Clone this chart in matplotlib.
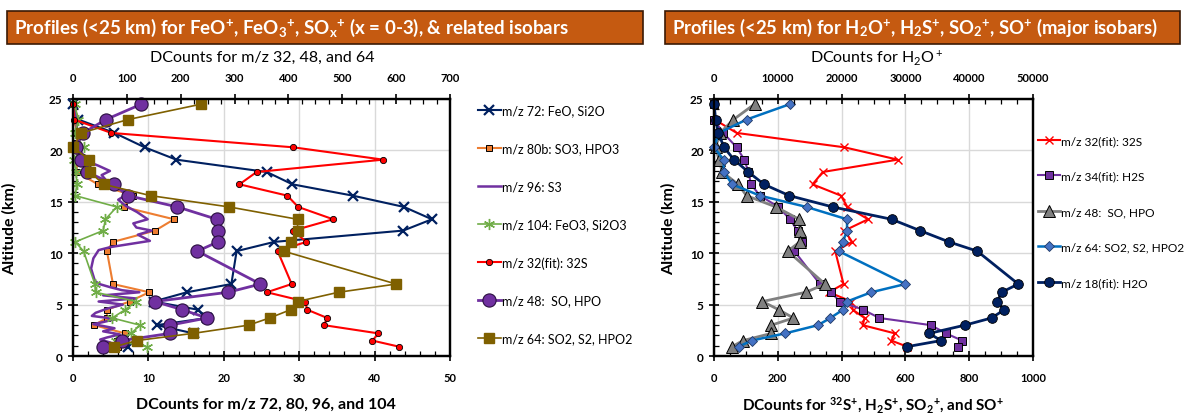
import numpy as np
import matplotlib.pyplot as plt
from matplotlib.patches import Rectangle
from matplotlib.ticker import MultipleLocator

plt.rcParams['font.family'] = ['Lato', 'DejaVu Sans']
plt.rcParams['mathtext.fontset'] = 'custom'
plt.rcParams['mathtext.rm'] = 'Lato'
plt.rcParams['mathtext.bf'] = 'Lato:bold'
plt.rcParams['mathtext.it'] = 'Lato:italic'

nan = np.nan

# altitude levels (km) shared by the marker series
altitude = [24.5, 23.0, 21.7, 20.3, 19.1, 17.9, 16.7, 15.6, 14.5, 13.3, 12.2,
            11.1, 10.2, 7.0, 6.2, 5.3, 4.5, 3.7, 3.0, 2.2, 1.5, 0.9]

# DCounts, m/z 72, 80b, 104 (bottom axis, left panel)
mz72 = [0, 0.7, 5.5, 9.5, 13.7, 25.7, 29.1, 37.1, 43.9, 47.6, 43.8,
        26.7, 21.7, 21.0, 15.1, 10.7, 16.6, 17.8, 11.1, 16.0, nan, 7.3]
mz80b = [0, 0.2, 0.5, 0.6, 0.5, 0.5, 3.3, 8.0, 6.7, 13.4, 10.9,
         5.3, 4.5, 5.3, 10.1, 7.5, 4.5, 4.5, 2.8, 6.9, 5.8, 6.0]
mz104 = [0.2, 0.7, 0.3, 1.4, 0.1, 0.4, 0.5, 0.3, 5.8, 4.3, 4.0,
         0.3, 1.4, 2.9, 3.0, 8.4, 6.9, 5.2, 8.9, 7.7, 5.7, 9.8]

# m/z 96 has its own, denser altitude grid
alt96 = [24.5, 23.0, 22.2, 20.3, 19.0, 18.5, 18.0, 17.6, 17.0, 16.6, 15.8,
         15.2, 14.6, 14.0, 13.3, 12.9, 12.5, 12.2, 11.8, 11.2, 10.6, 10.3,
         9.5, 8.5, 7.3, 7.0, 6.7, 6.4, 6.2, 5.9, 5.6, 5.3, 5.0, 4.6, 4.2,
         3.9, 3.6, 3.3, 3.1, 2.7, 2.4, 2.1, 1.8, 1.6, 1.3, 1.0]
mz96 = [0.2, 0.5, 0.5, 0.8, 1.7, 3.4, 4.9, 3.8, 4.5, 5.3, 7.3,
        6.0, 7.0, 8.5, 9.9, 8.0, 8.4, 10.4, 8.6, 10.2, 5.0, 3.4,
        2.7, 2.4, 2.9, 3.5, 4.9, 6.5, 8.8, 4.0, 8.3, 3.4, 6.6, 4.5, 3.0,
        2.5, 5.7, 4.0, 2.7, 5.5, 4.0, 6.2, 4.5, 3.6, 5.0, 4.0]

# DCounts, m/z 32, 48, 64
mz32 = [0, 2, 71, 409, 576, 341, 309, 398, 418, 483, 409,
        433, 380, 406, 360, 431, 435, 472, 466, 567, 556, 606]
mz48 = [127, 61, 19, 5, 15.5, 26, 75.5, 102, 194, 267, 269,
        269, 231, 348, 288, 152, 203, 249, 180, 180, 91, 56]
mz64 = [238, 102, 15.5, 0, 30, 31, 57, 144, 290, 417, 417,
        404, 391, 600, 493, 417, 404, 365, 326, 223, 118, 77]

# right panel extras
mz34 = [0, 0, 29, 71, 95, 108, 116, 144, 202, 238, 262,
        277, 252, 332, 366, 395, 468, 518, 680, 727, 778, 764]
mz18 = [0, 260, 680, 1570, 3130, 5380, 7830, 11800, 18600, 27840, 32280,
        36830, 41260, 47690, 45080, 44400, 45500, 43510, 39330, 33740, 35570, 30190]

W, H = 1188, 414
fig = plt.figure(figsize=(W / 100, H / 100), dpi=100)


def fx(px):
    return px / W


def fy(py):
    return 1 - py / H


def style(ax, ax2, bmax, bmaj, bmin, tmax, tmaj, tmin):
    ax.set_ylim(0, 25)
    ax.set_xlim(0, bmax)
    ax2.set_xlim(0, tmax)
    ax.yaxis.set_major_locator(MultipleLocator(5))
    ax.yaxis.set_minor_locator(MultipleLocator(1))
    ax.xaxis.set_major_locator(MultipleLocator(bmaj))
    ax.xaxis.set_minor_locator(MultipleLocator(bmin))
    ax2.xaxis.set_major_locator(MultipleLocator(tmaj))
    ax2.xaxis.set_minor_locator(MultipleLocator(tmin))
    ax.grid(True, which='major', color='#d9d9d9', lw=1)
    ax.set_axisbelow(True)
    for a in (ax, ax2):
        for s in a.spines.values():
            s.set_linewidth(1.6)
        a.tick_params(which='major', direction='inout', length=7, width=1.2)
        a.tick_params(which='minor', direction='in', length=3.5, width=0.9)
        for lab in a.get_xticklabels() + a.get_yticklabels():
            lab.set_fontweight('bold')
            lab.set_fontsize(8)
    ax.tick_params(axis='x', pad=8)
    ax2.tick_params(axis='x', pad=8)
    ax.tick_params(axis='y', pad=4, labelsize=8.5)
    ax.tick_params(right=False, which='both')
    ax.set_ylabel('Altitude (km)', fontweight='bold', fontsize=11.5)


# ---------------- left panel ----------------
axL = fig.add_axes([fx(73), fy(357), fx(377), 257 / H])
axL2 = axL.twiny()

axL.plot(mz72, altitude, color='#002060', lw=1.5, marker='x', ms=6.5, mew=1.6,
         label='m/z 72: FeO, Si2O', clip_on=False)
axL.plot(mz80b, altitude, color='#ed7d31', lw=1.5, marker='s', ms=4.5,
         mfc='#ed7d31', mec='black', mew=0.7, label='m/z 80b: SO3, HPO3', clip_on=False)
axL.plot(mz96, alt96, color='#7030a0', lw=1.8, label='m/z 96: S3', clip_on=False)
axL.plot(mz104, altitude, color='#70ad47', lw=1.2, marker=(6, 2, 0), ms=8, mew=1.0,
         label='m/z 104: FeO3, Si2O3', clip_on=False)

axL2.plot(mz32, altitude, color='#ff0000', lw=1.5, marker='o', ms=4.5,
          mfc='#ff0000', mec='black', mew=0.6, label='m/z 32(fit): 32S', clip_on=False)
axL2.plot(mz48, altitude, color='#7030a0', lw=2.0, marker='o', ms=9.5,
          mfc='#7030a0', mec='#2a0f40', mew=0.8, label='m/z 48:  SO, HPO', clip_on=False)
axL2.plot(mz64, altitude, color='#7f6000', lw=1.2, marker='s', ms=6.5,
          mfc='#7f6000', mec='#7f6000', label='m/z 64: SO2, S2, HPO2', clip_on=False)

style(axL, axL2, 50, 10, 2, 700, 100, 25)
axL.yaxis.set_label_coords((17 - 73) / 377, 0.5)

hL = axL.get_lines() + axL2.get_lines()
fig.legend(hL, [h.get_label() for h in hL], loc='upper left',
           bbox_to_anchor=(fx(478), fy(105)), frameon=False, fontsize=9,
           handlelength=1.8, handletextpad=0.15, labelspacing=2.08,
           borderpad=0, borderaxespad=0)

# ---------------- right panel ----------------
axR = fig.add_axes([fx(714), fy(357), fx(319), 257 / H])
axR2 = axR.twiny()

axR.plot(mz32, altitude, color='#ff0000', lw=1.5, marker='x', ms=6, mew=1.0,
         label='m/z 32(fit): 32S', clip_on=False)
axR.plot(mz34, altitude, color='#7030a0', lw=1.5, marker='s', ms=6,
         mfc='#7030a0', mec='black', mew=0.7, label='m/z 34(fit): H2S', clip_on=False)
axR.plot(mz48, altitude, color='#808080', lw=2.0, marker='^', ms=8,
         mfc='#808080', mec='black', mew=0.7, label='m/z 48:  SO, HPO', clip_on=False)
axR.plot(mz64, altitude, color='#0070c0', lw=1.8, marker='D', ms=5.5,
         mfc='#4472c4', mec='#1f3864', mew=0.6, label='m/z 64: SO2, S2, HPO2', clip_on=False)
axR2.plot(mz18, altitude, color='#002060', lw=2.0, marker='o', ms=7,
          mfc='#002060', mec='black', mew=0.6, label='m/z 18(fit): H2O', clip_on=False)

style(axR, axR2, 1000, 200, 50, 50000, 10000, 2500)
axR.yaxis.set_label_coords((676 - 714) / 319, 0.5)

hR = axR.get_lines() + axR2.get_lines()
fig.legend(hR, [h.get_label() for h in hR], loc='upper left',
           bbox_to_anchor=(fx(1038), fy(136)), frameon=False, fontsize=8.6,
           handlelength=1.8, handletextpad=0.12, labelspacing=2.05,
           borderpad=0, borderaxespad=0)

# ---------------- headers and titles ----------------
for x0, x1 in [(7, 643), (665, 1180)]:
    fig.patches.append(Rectangle((fx(x0), fy(45)), fx(x1 - x0), 33 / H,
                                 transform=fig.transFigure, facecolor='#c55a11',
                                 edgecolor='#3b1a05', lw=1.2))

fig.text(fx(14), fy(28),
         r'Profiles (<25 km) for FeO$^{\mathbf{+}}$, FeO$_{\mathbf{3}}$$^{\mathbf{+}}$, '
         r'SO$_{\mathbf{x}}$$^{\mathbf{+}}$ (x = 0-3), & related isobars',
         color='white', fontsize=13.5, fontweight='bold', ha='left', va='center')
fig.text(fx(672), fy(28),
         r'Profiles (<25 km) for H$_{\mathbf{2}}$O$^{\mathbf{+}}$, H$_{\mathbf{2}}$S$^{\mathbf{+}}$, '
         r'SO$_{\mathbf{2}}$$^{\mathbf{+}}$, SO$^{\mathbf{+}}$ (major isobars)',
         color='white', fontsize=13.3, fontweight='bold', ha='left', va='center')

fig.text(fx(262), fy(58), 'DCounts for m/z 32, 48, and 64', fontsize=11.5,
         ha='center', va='center')
fig.text(fx(876), fy(58), r'DCounts for H$_2$O$^+$', fontsize=11.5,
         ha='center', va='center')
fig.text(fx(266), fy(405), 'DCounts for m/z 72, 80, 96, and 104', fontsize=11.5,
         fontweight='bold', ha='center', va='center')
fig.text(fx(873), fy(405),
         r'DCounts for $^{\mathbf{32}}$S$^{\mathbf{+}}$, H$_{\mathbf{2}}$S$^{\mathbf{+}}$, '
         r'SO$_{\mathbf{2}}$$^{\mathbf{+}}$, and SO$^{\mathbf{+}}$',
         fontsize=11, fontweight='bold', ha='center', va='center')

fig.savefig('out.png', dpi=100)
